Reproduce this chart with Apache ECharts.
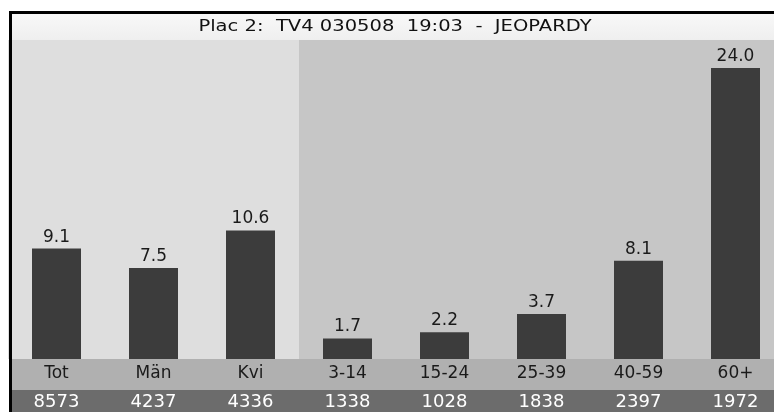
<!DOCTYPE html>
<html><head><meta charset="utf-8">
<script src="https://cdn.jsdelivr.net/npm/echarts@6/dist/echarts.min.js"></script>
<style>html,body{margin:0;padding:0;background:#fff}#c{width:774px;height:412px}</style>
</head><body><div id="c"></div>
<script>
const titleText = 'Plac 2:  TV4 030508  19:03  -  JEOPARDY';
const categories = ['Tot', 'Män', 'Kvi', '3-14', '15-24', '25-39', '40-59', '60+'];
const ratings = [9.1, 7.5, 10.6, 1.7, 2.2, 3.7, 8.1, 24.0];
const sampleSizes = [8573, 4237, 4336, 1338, 1028, 1838, 2397, 1972];

const chart = echarts.init(document.getElementById('c'));
const bgColors = ['#dedede','#dedede','#dedede','#c6c6c6','#c6c6c6','#c6c6c6','#c6c6c6','#c6c6c6'];
chart.setOption({
  animation: false,
  backgroundColor: '#ffffff',
  grid: { left: 8, top: 40, width: 776, height: 319, containLabel: false, outerBoundsMode: 'none' },
  xAxis: [{
    type: 'category',
    data: categories,
    z: 10,
    axisLine: { show: false },
    axisTick: { show: false },
    splitArea: { show: false },
    axisLabel: {
      margin: 0,
      interval: 0,
      formatter: function (v, i) { return '{a|' + v + '}\n{b|' + sampleSizes[i] + '}'; },
      rich: {
        a: { fontFamily: 'DejaVu Sans', fontSize: 17, color: '#1a1a1a', lineHeight: 29 },
        b: { fontFamily: 'DejaVu Sans', fontSize: 18, color: '#ffffff', lineHeight: 29 }
      }
    }
  }, {
    type: 'category',
    data: categories,
    z: 0,
    position: 'bottom',
    axisLine: { show: false },
    axisTick: { show: false },
    axisLabel: { show: false },
    splitArea: { show: true, interval: 0, areaStyle: { color: bgColors } }
  }],
  yAxis: { type: 'value', min: 0, max: 26.3, show: false, splitLine: { show: false } },
  graphic: [
    { type: 'rect', z: 1, shape: { x: 12, y: 14, width: 762, height: 26 },
      style: { fill: new echarts.graphic.LinearGradient(0,0,0,1,[{offset:0,color:'#f8f8f8'},{offset:1,color:'#efefef'}]) } },
    { type: 'rect', z: 1, shape: { x: 12, y: 359, width: 762, height: 31 }, style: { fill: '#b0b0b0' } },
    { type: 'rect', z: 1, shape: { x: 12, y: 390, width: 762, height: 22 }, style: { fill: '#6c6c6c' } },
    { type: 'rect', z: 5, shape: { x: 9, y: 11, width: 765, height: 3 }, style: { fill: '#000' } },
    { type: 'rect', z: 5, shape: { x: 9, y: 11, width: 3, height: 401 }, style: { fill: '#000' } },
    { type: 'text', z: 5, x: 395, y: 27, scaleX: 1.22, style: { text: titleText, fontFamily: 'DejaVu Sans', fontSize: 16, fill: '#111', textAlign: 'center', textVerticalAlign: 'middle' } }
  ],
  series: [{
    type: 'bar',
    data: ratings,
    barWidth: 49,
    z: 3,
    itemStyle: { color: '#3c3c3c' },
    label: {
      show: true, position: 'top', distance: 3,
      fontFamily: 'DejaVu Sans', fontSize: 17, color: '#1a1a1a',
      formatter: function (p) { return p.value.toFixed(1); }
    }
  }]
});
</script></body></html>
